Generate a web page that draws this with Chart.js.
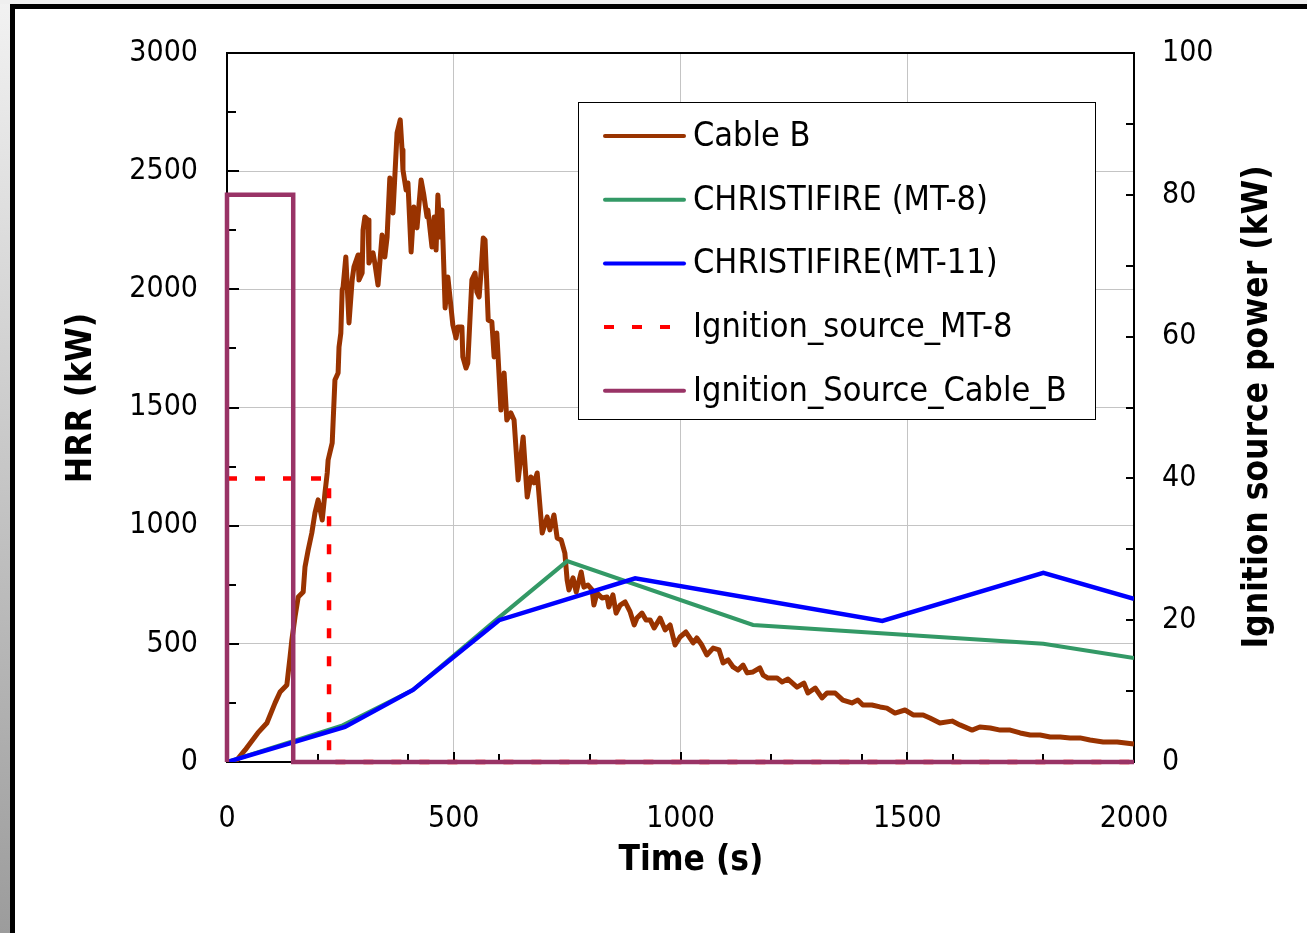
<!DOCTYPE html>
<html>
<head>
<meta charset="utf-8">
<script src="https://cdn.jsdelivr.net/npm/chart.js@4.4.1/dist/chart.umd.min.js"></script>
<style>
  html, body { margin: 0; padding: 0; background: #fff; }
  body { width: 1307px; height: 933px; position: relative; overflow: hidden; }
  #chart { position: absolute; left: 0; top: 0; }
  .frame { position: absolute; z-index: 2; }
  #strip-left { left: 0; top: 0; width: 10px; height: 933px; background: linear-gradient(#f2f2f2, #9c9c9c); }
  #strip-top { left: 0; top: 0; width: 1307px; height: 4px; background: #efefef; }
  #line-top { left: 10px; top: 4px; width: 1297px; height: 5px; background: #000; }
  #line-left { left: 10px; top: 4px; width: 5px; height: 929px; background: #000; }
</style>
</head>
<body>
<div class="frame" id="strip-left"></div>
<div class="frame" id="strip-top"></div>
<div class="frame" id="line-top"></div>
<div class="frame" id="line-left"></div>
<canvas id="chart" width="1307" height="933"></canvas>
<script>
// measured heat release rate, Cable B (s, kW)
const cableTime = [
  10, 18, 40, 68, 88, 106, 117, 132, 135, 139, 143, 150, 157, 168, 172, 179, 187, 194, 201, 210,
  216, 221, 223, 232, 238, 245, 247, 251, 254, 256, 262, 269, 276, 280, 289, 291, 298, 300, 304, 311,
  313, 322, 326, 333, 342, 348, 353, 359, 366, 375, 382, 386, 388, 395, 399, 406, 412, 419, 428, 434,
  441, 443, 452, 457, 461, 465, 470, 474, 481, 487, 498, 505, 509, 518, 520, 527, 531, 540, 547, 551,
  556, 560, 565, 569, 576, 584, 589, 595, 604, 611, 617, 626, 633, 642, 653, 662, 670, 677, 684, 695,
  706, 712, 721, 728, 737, 745, 750, 754, 763, 770, 781, 787, 796, 805, 809, 816, 827, 838, 842, 851,
  858, 867, 878, 889, 898, 904, 915, 924, 933, 942, 955, 966, 977, 988, 999, 1012, 1028, 1036, 1047, 1058,
  1072, 1085, 1094, 1105, 1116, 1127, 1138, 1147, 1160, 1175, 1182, 1193, 1213, 1224, 1237, 1257, 1272, 1281, 1297, 1312,
  1323, 1341, 1358, 1378, 1391, 1402, 1422, 1440, 1455, 1473, 1495, 1513, 1535, 1550, 1572, 1599, 1616, 1643, 1660, 1683,
  1705, 1727, 1749, 1771, 1793, 1815, 1837, 1859, 1881, 1903, 1932, 1963, 2000
]
const cableHrr = [
  0, 0, 51, 123, 165, 250, 296, 326, 377, 444, 516, 614, 698, 719, 825, 897, 969, 1054, 1109, 1024,
  1138, 1223, 1278, 1350, 1616, 1646, 1756, 1815, 1997, 2010, 2137, 1858, 2040, 2095, 2145, 2040, 2069, 2251, 2306, 2293,
  2111, 2154, 2111, 2018, 2230, 2137, 2221, 2471, 2323, 2662, 2717, 2590, 2505, 2420, 2450, 2158, 2348, 2260, 2463, 2399,
  2306, 2336, 2179, 2306, 2166, 2399, 2221, 2336, 1921, 2052, 1849, 1794, 1841, 1841, 1714, 1667, 1688, 2040, 2069, 1989,
  1968, 2069, 2217, 2209, 1870, 1862, 1714, 1815, 1489, 1646, 1447, 1477, 1447, 1193, 1375, 1121, 1206, 1181, 1223, 969,
  1037, 982, 1045, 948, 939, 884, 770, 728, 779, 719, 804, 740, 749, 728, 664, 715, 694, 698, 656, 707,
  630, 664, 677, 635, 580, 609, 630, 601, 601, 567, 609, 559, 580, 495, 529, 550, 504, 525, 495, 453,
  482, 474, 419, 432, 402, 389, 410, 377, 381, 398, 368, 355, 355, 339, 351, 317, 334, 292, 313, 271,
  292, 292, 262, 250, 262, 241, 241, 233, 228, 207, 220, 199, 199, 186, 165, 173, 157, 135, 148, 144,
  135, 135, 123, 114, 114, 106, 106, 102, 102, 93, 85, 85, 76
]

// CHRISTIFIRE predictions (s, kW)
const mt8Time = [0, 255, 410, 600, 750, 1160, 1800, 2000]
const mt8Hrr = [0, 155, 305, 612, 850, 580, 500, 440]
const mt11Time = [0, 260, 410, 600, 900, 1445, 1800, 2000]
const mt11Hrr = [0, 148, 305, 600, 777, 597, 800, 690]

// ignition sources (s, kW), secondary axis
const ignMt8Time = [0, 225, 225, 2000]
const ignMt8Power = [40, 40, 0, 0]
const ignCableTime = [0, 0, 146, 146, 2000]
const ignCablePower = [0, 80, 80, 0, 0]

const seriesLabels = ['Cable B', 'CHRISTIFIRE (MT-8)', 'CHRISTIFIRE(MT-11)', 'Ignition_source_MT-8', 'Ignition_Source_Cable_B']

const FONT = '"DejaVu Sans Condensed", "DejaVu Sans", sans-serif'

const toPoints = (xs, ys) => xs.map((x, i) => ({ x: x, y: ys[i] }))
const plain = (v) => String(v)

// inward tick marks, top border, axis titles, legend box
const frameMarks = {
  id: 'frameMarks',
  beforeDatasetsDraw(chart) {
    const { ctx, chartArea: a, scales } = chart
    ctx.save()
    ctx.strokeStyle = '#000'
    ctx.lineWidth = 2
    ctx.beginPath()
    ctx.moveTo(a.left, a.top)
    ctx.lineTo(a.right, a.top)
    for (let v = 0; v <= 3000; v += 250) {
      const py = Math.round(scales.y.getPixelForValue(v))
      ctx.moveTo(a.left, py)
      ctx.lineTo(a.left + (v % 500 ? 9 : 12), py)
    }
    for (let v = 0; v <= 100; v += 10) {
      const py = Math.round(scales.y2.getPixelForValue(v))
      ctx.moveTo(a.right, py)
      ctx.lineTo(a.right - 8, py)
    }
    for (let v = 0; v <= 2000; v += 100) {
      if (v % 200 && v % 500) continue
      const px = Math.round(scales.x.getPixelForValue(v))
      ctx.moveTo(px, a.bottom)
      ctx.lineTo(px, a.bottom - (v % 500 ? 8 : 10))
    }
    ctx.stroke()
    ctx.restore()
  },
  afterDraw(chart) {
    const { ctx } = chart
    ctx.save()
    ctx.fillStyle = '#000'
    ctx.font = 'bold 35px ' + FONT
    ctx.textAlign = 'center'
    ctx.textBaseline = 'middle'
    ctx.fillText('Time (s)', 691, 861)
    ctx.translate(82, 398)
    ctx.rotate(-Math.PI / 2)
    ctx.fillText('HRR (kW)', 0, 0)
    ctx.restore()
    ctx.save()
    ctx.fillStyle = '#000'
    ctx.font = 'bold 35px ' + FONT
    ctx.textAlign = 'center'
    ctx.textBaseline = 'middle'
    ctx.translate(1258, 407)
    ctx.rotate(-Math.PI / 2)
    ctx.fillText('Ignition source power (kW)', 0, 0)
    ctx.restore()

    ctx.save()
    ctx.fillStyle = '#fff'
    ctx.fillRect(578, 102, 517, 317)
    ctx.strokeStyle = '#000'
    ctx.lineWidth = 1
    ctx.strokeRect(578.5, 102.5, 517, 317)
    ctx.font = '34px ' + FONT
    ctx.textBaseline = 'middle'
    chart.data.datasets.forEach((ds, i) => {
      const cy = 136 + i * 63.7
      ctx.strokeStyle = ds.borderColor
      ctx.lineWidth = 4
      ctx.lineCap = ds.borderDash ? 'butt' : 'round'
      ctx.setLineDash(ds.borderDash || [])
      ctx.beginPath()
      ctx.moveTo(ds.borderDash ? 604 : 605, cy)
      ctx.lineTo(684, cy)
      ctx.stroke()
      ctx.setLineDash([])
      ctx.fillStyle = '#000'
      ctx.fillText(ds.label, 693, cy + 1)
    })
    ctx.restore()
  }
}

new Chart(document.getElementById('chart'), {
  type: 'line',
  data: {
    datasets: [
      {
        label: seriesLabels[0],
        data: toPoints(cableTime, cableHrr),
        borderColor: '#993300',
        borderWidth: 5,
        borderJoinStyle: 'round',
        yAxisID: 'y',
        order: 4
      },
      {
        label: seriesLabels[1],
        data: toPoints(mt8Time, mt8Hrr),
        borderColor: '#339966',
        borderWidth: 4,
        yAxisID: 'y',
        order: 3
      },
      {
        label: seriesLabels[2],
        data: toPoints(mt11Time, mt11Hrr),
        borderColor: '#0000ff',
        borderWidth: 4.5,
        yAxisID: 'y',
        order: 2
      },
      {
        label: seriesLabels[3],
        data: toPoints(ignMt8Time, ignMt8Power),
        borderColor: '#ff0000',
        borderWidth: 4.5,
        borderDash: [10, 18],
        yAxisID: 'y2',
        clip: false,
        order: 1
      },
      {
        label: seriesLabels[4],
        data: toPoints(ignCableTime, ignCablePower),
        borderColor: '#993366',
        borderWidth: 4.5,
        yAxisID: 'y2',
        clip: false,
        order: 0
      }
    ]
  },
  options: {
    responsive: false,
    animation: false,
    devicePixelRatio: 1,
    layout: { padding: { top: 53, left: 0, right: 0, bottom: 0 } },
    elements: {
      point: { radius: 0, hoverRadius: 0 },
      line: { tension: 0, fill: false }
    },
    plugins: {
      legend: { display: false },
      tooltip: { enabled: false }
    },
    scales: {
      x: {
        type: 'linear',
        min: 0,
        max: 2000,
        ticks: { stepSize: 500, padding: 39, color: '#000', callback: plain, font: { family: FONT, size: 30 } },
        grid: { color: '#c4c4c4', lineWidth: 1, drawTicks: false },
        border: { color: '#000', width: 2 },
        afterFit: (s) => { s.height = 171 }
      },
      y: {
        position: 'left',
        min: 0,
        max: 3000,
        ticks: { stepSize: 500, padding: 29, color: '#000', callback: plain, font: { family: FONT, size: 30 } },
        grid: { color: '#c4c4c4', lineWidth: 1, drawTicks: false },
        border: { color: '#000', width: 2 },
        afterFit: (s) => { s.width = 227 }
      },
      y2: {
        position: 'right',
        min: 0,
        max: 100,
        ticks: { stepSize: 20, padding: 28, color: '#000', callback: plain, font: { family: FONT, size: 30 } },
        grid: { display: false, drawTicks: false },
        border: { color: '#000', width: 2 },
        afterFit: (s) => { s.width = 173 }
      }
    }
  },
  plugins: [frameMarks]
})
</script>
</body>
</html>
